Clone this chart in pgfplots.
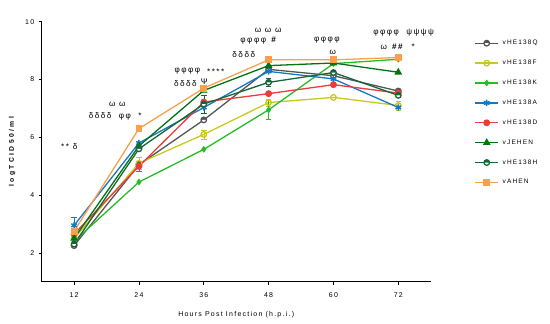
\documentclass[border=0pt]{standalone}
\usepackage{pgfplots}
\pgfplotsset{compat=1.18}
\usetikzlibrary{plotmarks}
\usepackage{fontspec}
\setmainfont{Liberation Sans}[LetterSpace=18]
\newfontfamily\wide{Liberation Sans}[LetterSpace=35]
\definecolor{cQ}{RGB}{85,85,85}
\definecolor{cF}{RGB}{200,200,30}
\definecolor{cK}{RGB}{35,190,35}
\definecolor{cA}{RGB}{20,120,200}
\definecolor{cD}{RGB}{235,60,60}
\definecolor{cJ}{RGB}{0,115,20}
\definecolor{cH}{RGB}{25,100,55}
\definecolor{cO}{RGB}{250,160,75}
\begin{document}
\begin{tikzpicture}[x=1bp,y=1bp]
\path[use as bounding box] (0,0) rectangle (550,323);
\begin{axis}[
  at={(41.7bp,41.3bp)}, anchor=south west,
  width=389bp, height=260bp, scale only axis,
  xmin=6, xmax=78, ymin=1, ymax=10,
  axis x line*=bottom, axis y line*=left,
  xtick={12,24,36,48,60,72}, ytick={2,4,6,8,10},
  tick align=outside, major tick length=3bp,
  tick style={black, line width=0.6pt},
  axis line style={black, line width=0.7pt},
  /pgf/number format/assume math mode=true,
  ticklabel style={font=\fontsize{7}{8}\selectfont},
  xticklabel style={yshift=-4bp},
  yticklabel style={xshift=-1bp},
  xlabel={Hours Post Infection (h.p.i.)},
  ylabel={\wide logTCID50/ml},
  xlabel style={font=\fontsize{7}{8}\selectfont, yshift=-7bp},
  ylabel style={font=\fontsize{6.8}{7}\selectfont\bfseries, yshift=3bp},
  every axis plot/.append style={line width=1.3pt, mark size=2.8pt},
  legend style={at={(1.105,0.945)}, anchor=north west, draw=none, fill=none,
    font=\fontsize{6.5}{7}\selectfont, row sep=9.9bp, legend cell align=left,
    nodes={inner xsep=4bp}},
  legend image code/.code={\draw[mark repeat=2,mark phase=2] plot coordinates {(0cm,0cm) (0.4cm,0cm) (0.8cm,0cm)};},
  clip=false,
]
\addplot[color=cQ, mark=halfcircle*, mark options={fill=cQ, draw=cQ}] coordinates {(12,2.25) (24,5.05) (36,6.6) (48,8.35) (60,8.13) (72,7.6)};
\addlegendentry{vHE138Q}
\addplot[color=cF, mark=o, mark options={fill=white}, error bars/.cd, y dir=both, y explicit] coordinates {(12,2.5) (24,5.1) +- (0,0.22) (36,6.1) +- (0,0.15) (48,7.2) +- (0,0.12) (60,7.38) (72,7.1) +- (0,0.15)};
\addlegendentry{vHE138F}
\addplot[color=cK, mark=diamond*, mark size=2.4pt, error bars/.cd, y dir=both, y explicit] coordinates {(12,2.4) (24,4.45) (36,5.58) (48,6.95) +- (0,0.33) (60,8.55) (72,8.7)};
\addlegendentry{vHE138K}
\addplot[color=cA, mark=asterisk, mark size=3.2pt, mark options={line width=1.5pt}, error bars/.cd, y dir=both, y explicit] coordinates {(12,2.95) +- (0,0.3) (24,5.8) (36,7.03) (48,8.28) (60,8.02) (72,7.03)};
\addlegendentry{vHE138A}
\addplot[color=cD, mark=*, error bars/.cd, y dir=both, y explicit] coordinates {(12,2.65) (24,5.0) +- (0,0.18) (36,7.22) (48,7.51) (60,7.82) (72,7.53)};
\addlegendentry{vHE138D}
\addplot[color=cJ, mark=triangle*, mark size=3.2pt] coordinates {(12,2.5) (24,5.7) (36,7.62) (48,8.48) (60,8.57) (72,8.25)};
\addlegendentry{vJEHEN}
\addplot[color=cH, mark=halfcircle*, mark options={fill=cH, draw=cH}, error bars/.cd, y dir=both, y explicit] coordinates {(12,2.3) (24,5.6) (36,7.15) +- (0,0.3) (48,7.9) +- (0,0.14) (60,8.24) (72,7.45)};
\addlegendentry{vHE138H}
\addplot[color=cO, mark=square*, mark size=2.8pt] coordinates {(12,2.75) (24,6.3) (36,7.7) (48,8.68) (60,8.68) (72,8.76)};
\addlegendentry{vAHEN}
\begin{scope}[every node/.style={font=\fontsize{8.2}{9}\selectfont, inner sep=0pt}]
\node at (axis cs:11.1,5.68) {** δ};
\node at (axis cs:20.0,7.13) {ω ω};
\node at (axis cs:19.6,6.71) {δδδδ \ φφ \ *};
\node at (axis cs:32.95,8.30) {φφφφ};
\node at (axis cs:38.2,8.27) {****};
\node at (axis cs:32.6,7.85) {δδδδ};
\node at (axis cs:36.1,7.92) {Ψ};
\node at (axis cs:47.9,9.71) {ω ω ω};
\node at (axis cs:46.2,9.33) {φφφφ \textbf{\#}};
\node at (axis cs:43.4,8.85) {δδδδ};
\node at (axis cs:58.8,9.37) {φφφφ};
\node at (axis cs:59.9,8.95) {ω};
\node at (axis cs:73.0,9.61) {φφφφ \ ψψψψ};
\node at (axis cs:71.9,9.13) {ω \textbf{\#\#} \ *};
\end{scope}
\end{axis}
\end{tikzpicture}
\end{document}
